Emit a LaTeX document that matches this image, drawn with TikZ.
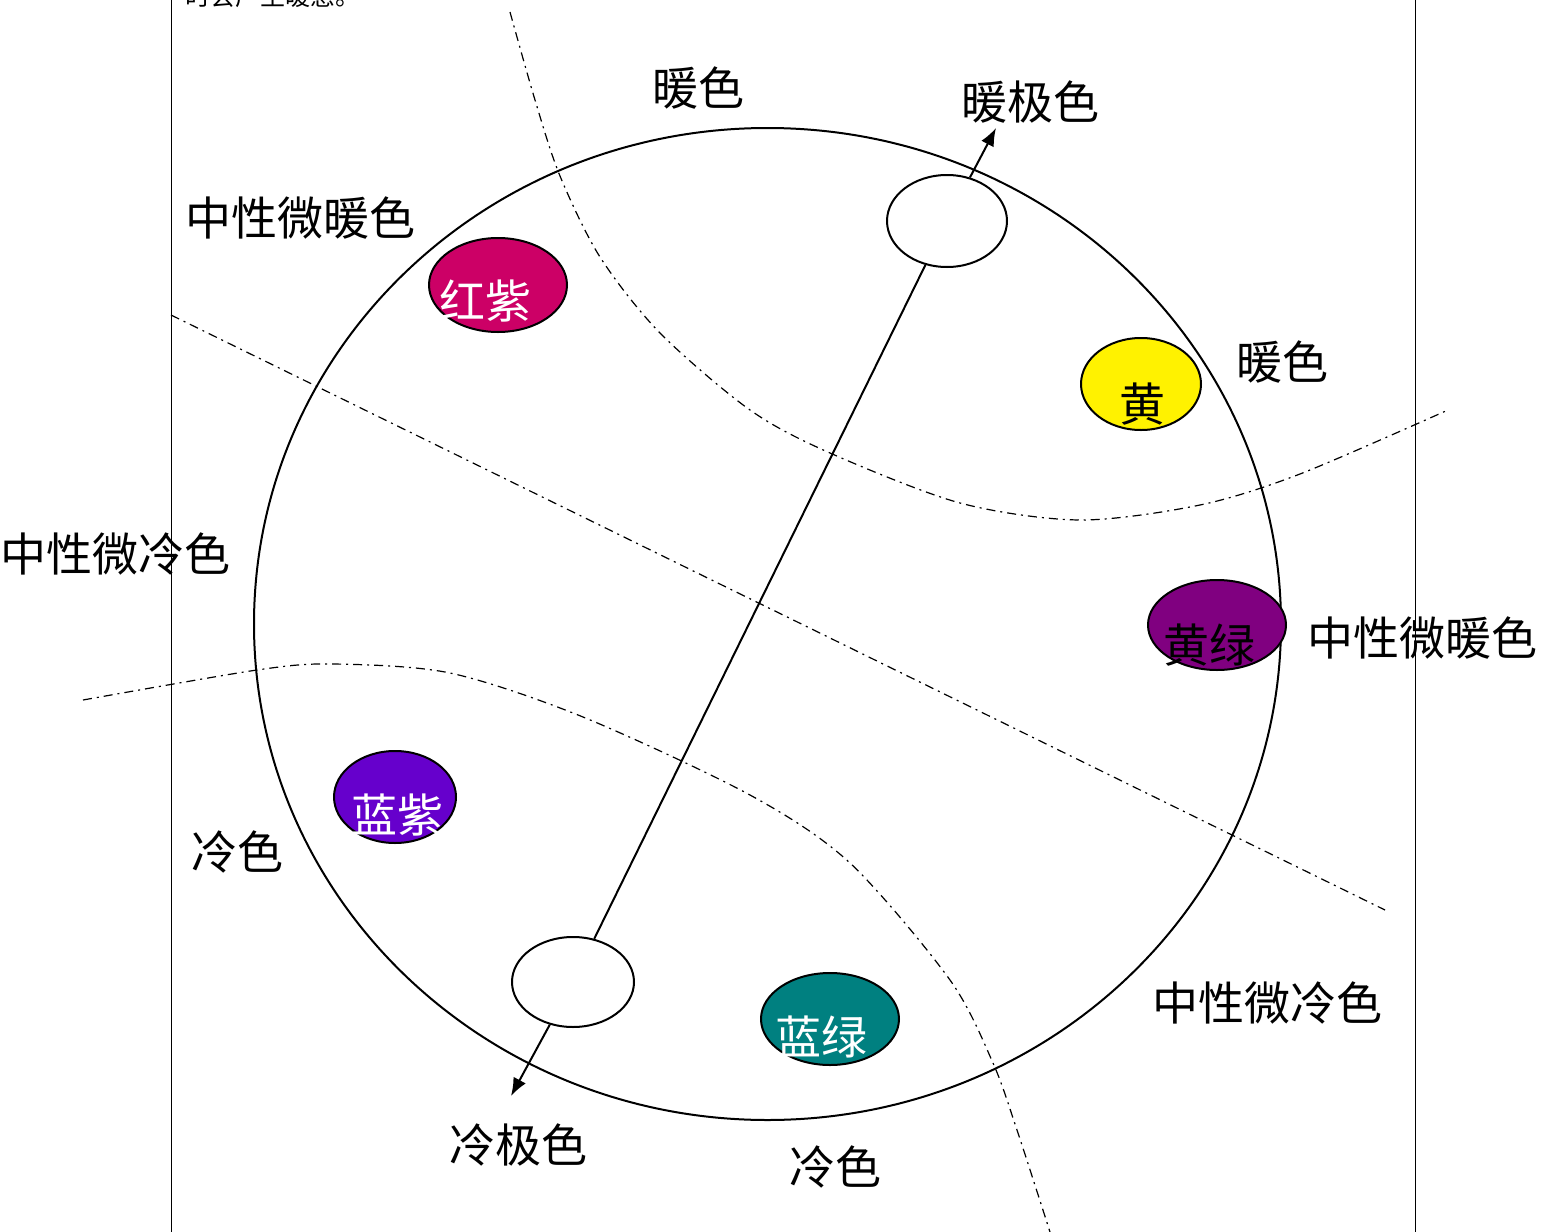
\documentclass[tikz,border=0pt]{standalone}
\usepackage{fontspec}
\setmainfont{Noto Sans CJK SC}
\usetikzlibrary{arrows.meta,shapes.geometric}
\definecolor{redviolet}{HTML}{CC0066}
\definecolor{yellowgreen}{HTML}{800080}
\definecolor{blueviolet}{HTML}{6600CC}
\definecolor{bluegreen}{HTML}{008080}

\begin{document}
\begin{tikzpicture}[
  x=0.5pt,y=-0.5pt,
  tone/.style={ellipse,draw,line width=1pt,inner sep=0pt},
  tonetext/.style={font=\fontsize{23}{23}\selectfont,inner sep=0pt},
  lbl/.style={font=\fontsize{23}{23}\selectfont,inner sep=0pt},
  divide/.style={line width=0.6pt,dash pattern=on 4.5pt off 2.5pt on 1pt off 2.5pt},
  arrow/.style={-{Latex[length=9pt,width=7pt]},line width=1pt}
]
\useasboundingbox (0,0) rectangle (1555,1232);
\clip (0,0) rectangle (1555,1232);
% page margins and the cut-off line of text above
\draw[line width=0.5pt] (171,0) -- (171,1232);
\draw[line width=0.5pt] (1415,0) -- (1415,1232);
\node[font=\fontsize{12.5}{12.5}\selectfont,inner sep=0pt,anchor=base west] (prev) at (185,5) {时会产生暖感。};
% dividing curves
\draw[divide] plot[smooth] coordinates {(510,12) (535,100) (560,176) (600,257) (660,333) (750,410) (830,453) (960,503) (1080,520) (1200,505) (1300,474) (1448,410)};
\draw[divide] (171,315) -- (1385,910);
\draw[divide] plot[smooth] coordinates {(83,700) (257,670) (333,664) (450,673) (583,717) (750,795) (850,863) (950,980) (993,1063) (1017,1130) (1050,1232)};
% colour circle
\node[ellipse,draw,line width=1pt,minimum width=513.5pt,minimum height=496pt,inner sep=0pt] (wheel) at (767.5,624) {};
% poles
\node[tone,fill=white,minimum width=60pt,minimum height=46pt] (hot) at (947,221) {};
\node[tone,fill=white,minimum width=61pt,minimum height=45pt] (cold) at (573,982) {};
\coordinate (hotend) at (996,128);
\coordinate (coldend) at (511,1096);
\draw[line width=1pt] (hot) -- (cold);
\draw[arrow] (hot) -- (hotend);
\draw[arrow] (cold) -- (coldend);
% hues
\node[tone,fill=redviolet,minimum width=69pt,minimum height=47pt] (rz) at (498,285) {};
\node[tonetext,text=white] (rzt) at (485,301) {红紫};
\node[tone,fill=yellow,minimum width=60pt,minimum height=46pt] (hu) at (1141,384) {};
\node[tonetext] (hut) at (1142,404) {黄};
\node[tone,fill=yellowgreen,minimum width=69pt,minimum height=45pt] (hl) at (1217,625) {};
\node[tonetext] (hlt) at (1209,645) {黄绿};
\node[tone,fill=blueviolet,minimum width=61pt,minimum height=46pt] (lz) at (395,797) {};
\node[tonetext,text=white] (lzt) at (397,815) {蓝紫};
\node[tone,fill=bluegreen,minimum width=69pt,minimum height=46pt] (ll) at (830,1019) {};
\node[tonetext,text=white] (llt) at (821,1037) {蓝绿};
% labels
\node[lbl] (warm1) at (698,88) {暖色};
\node[lbl] (warmpole) at (1030,102) {暖极色};
\node[lbl] (nw1) at (300,218) {中性微暖色};
\node[lbl] (warm2) at (1282,362) {暖色};
\node[lbl] (nc1) at (116,554) {中性微冷色};
\node[lbl] (nw2) at (1422,638) {中性微暖色};
\node[lbl] (cool1) at (237,852) {冷色};
\node[lbl] (nc2) at (1267,1003) {中性微冷色};
\node[lbl] (coldpole) at (518,1145) {冷极色};
\node[lbl] (cool2) at (835,1167) {冷色};
\end{tikzpicture}
\end{document}
